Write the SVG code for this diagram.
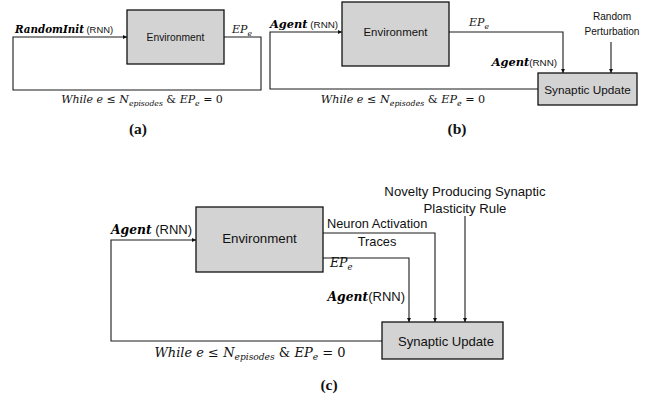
<svg xmlns="http://www.w3.org/2000/svg" width="657" height="402" viewBox="0 0 657 402">
<style>
.box{fill:#d3d3d3;stroke:#111;stroke-width:1.3}
.ln{fill:none;stroke:#1a1a1a;stroke-width:1.1}
.sans{font-family:"Liberation Sans",Arial,sans-serif;fill:#111}
.math{font-family:"DejaVu Serif","Liberation Serif",serif;fill:#111}
.it{font-style:italic}
.bi{font-family:"DejaVu Serif","Liberation Serif",serif;font-style:italic;font-weight:bold}
.lab{font-family:"Liberation Serif","Times New Roman",serif;font-weight:bold;fill:#111;text-anchor:middle}
</style>
<defs>
<marker id="ah" viewBox="0 0 8 8" refX="8" refY="4" markerWidth="4.5" markerHeight="4.5" orient="auto" markerUnits="userSpaceOnUse">
<path d="M0,0 L8,4 L0,8 Z" fill="#111"/>
</marker>
</defs>

<g id="connectors">
<!-- (a) -->
<path class="ln" d="M224,37 H261 V90 H13 V37 H127" marker-end="url(#ah)"/>
<!-- (b) -->
<path class="ln" d="M538,89 H270 V32 H342" marker-end="url(#ah)"/>
<path class="ln" d="M449,32 H563 V73" marker-end="url(#ah)"/>
<path class="ln" d="M611,42 V73" marker-end="url(#ah)"/>
<!-- (c) -->
<path class="ln" d="M382,341 H111 V240 H196" marker-end="url(#ah)"/>
<path class="ln" d="M323,233 H435 V322" marker-end="url(#ah)"/>
<path class="ln" d="M323,258 H409 V322" marker-end="url(#ah)"/>
<path class="ln" d="M465,216 V322" marker-end="url(#ah)"/>
</g>

<g id="env-a">
<rect class="box" x="127" y="10" width="97" height="54"/>
<text class="sans" x="175.5" y="41" font-size="10.3" text-anchor="middle">Environment</text>
</g>
<g id="env-b">
<rect class="box" x="342" y="2" width="107" height="64"/>
<text class="sans" x="395.5" y="36" font-size="11.4" text-anchor="middle">Environment</text>
</g>
<g id="syn-b">
<rect class="box" x="538" y="73" width="99" height="32"/>
<text class="sans" x="587.5" y="93.5" font-size="11.8" text-anchor="middle">Synaptic Update</text>
</g>
<g id="env-c">
<rect class="box" x="196" y="207" width="127" height="65"/>
<text class="sans" x="259.5" y="243" font-size="13.3" text-anchor="middle">Environment</text>
</g>
<g id="syn-c">
<rect class="box" x="382" y="322" width="121" height="37"/>
<text class="sans" x="446" y="346" font-size="13.1" text-anchor="middle">Synaptic Update</text>
</g>

<g id="labels-a">
<text x="15" y="33"><tspan class="bi" font-size="10.3">RandomInit</tspan><tspan class="sans" font-size="9.4"> (RNN)</tspan></text>
<text class="math it" x="232" y="33" font-size="11">EP<tspan font-size="7.5" dy="2.5">e</tspan></text>
<text class="math" x="142" y="103" font-size="11" text-anchor="middle"><tspan class="it">While e</tspan> ≤ <tspan class="it">N</tspan><tspan class="it" font-size="7.7" dy="2.5">episodes</tspan><tspan dy="-2.5"> &amp; </tspan><tspan class="it">EP</tspan><tspan class="it" font-size="7.7" dy="2.5">e</tspan><tspan dy="-2.5"> = 0</tspan></text>
<text class="lab" x="138" y="134" font-size="15.5">(a)</text>
</g>

<g id="labels-b">
<text x="270" y="28"><tspan class="bi" font-size="11.4">Agent</tspan><tspan class="sans" font-size="9.8"> (RNN)</tspan></text>
<text class="math it" x="469" y="26" font-size="11">EP<tspan font-size="7.5" dy="2.5">e</tspan></text>
<text x="557" y="66" text-anchor="end"><tspan class="bi" font-size="11.4">Agent</tspan><tspan class="sans" font-size="9.8">(RNN)</tspan></text>
<text class="sans" x="612" y="20" font-size="10.1" text-anchor="middle">Random</text>
<text class="sans" x="612" y="35" font-size="10.1" text-anchor="middle">Perturbation</text>
<text class="math" x="403" y="103" font-size="11.2" text-anchor="middle"><tspan class="it">While e</tspan> ≤ <tspan class="it">N</tspan><tspan class="it" font-size="7.8" dy="2.6">episodes</tspan><tspan dy="-2.6"> &amp; </tspan><tspan class="it">EP</tspan><tspan class="it" font-size="7.8" dy="2.6">e</tspan><tspan dy="-2.6"> = 0</tspan></text>
<text class="lab" x="457" y="134" font-size="15.5">(b)</text>
</g>

<g id="labels-c">
<text x="111" y="234"><tspan class="bi" font-size="12.3">Agent</tspan><tspan class="sans" font-size="13"> (RNN)</tspan></text>
<text class="sans" x="465" y="196" font-size="13.2" text-anchor="middle">Novelty Producing Synaptic</text>
<text class="sans" x="465" y="213" font-size="13.2" text-anchor="middle">Plasticity Rule</text>
<text class="sans" x="327" y="228" font-size="12.8">Neuron Activation</text>
<text class="sans" x="377" y="246" font-size="12.8" text-anchor="middle">Traces</text>
<text class="math it" x="330" y="267" font-size="12.5">EP<tspan font-size="8.5" dy="2.8">e</tspan></text>
<text x="405" y="301" text-anchor="end"><tspan class="bi" font-size="12.3">Agent</tspan><tspan class="sans" font-size="13">(RNN)</tspan></text>
<text class="math" x="250" y="357" font-size="13" text-anchor="middle"><tspan class="it">While e</tspan> ≤ <tspan class="it">N</tspan><tspan class="it" font-size="9.1" dy="3">episodes</tspan><tspan dy="-3"> &amp; </tspan><tspan class="it">EP</tspan><tspan class="it" font-size="9.1" dy="3">e</tspan><tspan dy="-3"> = 0</tspan></text>
<text class="lab" x="329" y="390" font-size="15.5">(c)</text>
</g>
</svg>
